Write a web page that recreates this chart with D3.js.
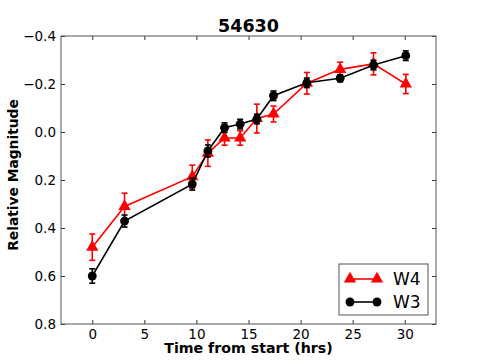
<!DOCTYPE html>
<html>
<head>
<meta charset="utf-8">
<script src="https://cdn.jsdelivr.net/npm/d3@7"></script>
<style>
body{margin:0;background:#fff;}
svg{font-family:"DejaVu Sans",sans-serif;}
</style>
</head>
<body>
<svg id="graph" width="485" height="360"></svg>
<script>
// time from start (hrs)
var times=[0,3.1,9.6,11.1,12.7,14.2,15.8,17.4,20.6,23.8,27.0,30.1];
// W4 (red triangles)
var w4Mag=[0.48,0.31,0.186,0.088,0.025,0.025,-0.056,-0.075,-0.203,-0.261,-0.284,-0.2];
var w4Err=[0.055,0.055,0.048,0.055,0.03,0.03,0.06,0.033,0.045,0.03,0.046,0.04];
// W3 (black circles)
var w3Mag=[0.6,0.371,0.217,0.079,-0.018,-0.033,-0.054,-0.151,-0.205,-0.224,-0.279,-0.318];
var w3Err=[0.03,0.025,0.025,0.025,0.02,0.02,0.02,0.02,0.02,0.015,0.02,0.02];
var xTicks=[0,5,10,15,20,25,30];
var yTicks=[-0.4,-0.2,0.0,0.2,0.4,0.6,0.8];

var screen={left:61,right:436,top:36,bottom:324};
var svg=d3.select("#graph");

var xScale=d3.scaleLinear()
    .domain([-3,33])
    .range([screen.left,screen.right]);
var yScale=d3.scaleLinear()
    .domain([-0.4,0.8])
    .range([screen.top,screen.bottom]);

var fmt=function(v){return d3.format(".1f")(v).replace("-","\u2212");}

//axes, ticks inward on all sides
var xAxis=svg.append("g")
    .attr("transform","translate(0,"+screen.bottom+")")
    .call(d3.axisBottom(xScale).tickValues(xTicks).tickSize(-4).tickPadding(5.5).tickFormat(d3.format("d")));
var xTop=svg.append("g")
    .attr("transform","translate(0,"+screen.top+")")
    .call(d3.axisTop(xScale).tickValues(xTicks).tickSize(-4).tickFormat(""));
var yAxis=svg.append("g")
    .attr("transform","translate("+screen.left+",0)")
    .call(d3.axisLeft(yScale).tickValues(yTicks).tickSize(-4).tickPadding(5).tickFormat(fmt));
var yRight=svg.append("g")
    .attr("transform","translate("+screen.right+",0)")
    .call(d3.axisRight(yScale).tickValues(yTicks).tickSize(-4).tickFormat(""));

[xAxis,xTop,yAxis,yRight].forEach(function(g){
    g.select(".domain").remove();
    g.selectAll("line").attr("stroke","#000").attr("stroke-width",0.8);
    g.selectAll("text").attr("font-size",13.5).attr("fill","#000").attr("font-family","DejaVu Sans");
});

svg.append("rect")
    .attr("x",screen.left).attr("y",screen.top)
    .attr("width",screen.right-screen.left)
    .attr("height",screen.bottom-screen.top)
    .attr("fill","none").attr("stroke","#555").attr("stroke-width",1);

var drawSeries=function(mags,errs,color,shape)
{
    var pts=times.map(function(t,i){return {t:t,m:mags[i],e:errs[i]};});
    var g=svg.append("g");
    var line=d3.line()
        .x(function(d){return xScale(d.t);})
        .y(function(d){return yScale(d.m);});
    g.append("path")
        .datum(pts)
        .attr("d",line)
        .attr("fill","none")
        .attr("stroke",color)
        .attr("stroke-width",1.6);
    //error bars
    var eb=g.selectAll(".eb").data(pts).enter().append("g");
    eb.append("line")
        .attr("x1",function(d){return xScale(d.t);})
        .attr("x2",function(d){return xScale(d.t);})
        .attr("y1",function(d){return yScale(d.m-d.e);})
        .attr("y2",function(d){return yScale(d.m+d.e);})
        .attr("stroke",color).attr("stroke-width",1.6);
    [-1,1].forEach(function(s){
        eb.append("line")
            .attr("x1",function(d){return xScale(d.t)-3;})
            .attr("x2",function(d){return xScale(d.t)+3;})
            .attr("y1",function(d){return yScale(d.m+s*d.e);})
            .attr("y2",function(d){return yScale(d.m+s*d.e);})
            .attr("stroke",color).attr("stroke-width",1.6);
    });
    g.selectAll(".mk").data(pts).enter().append("path")
        .attr("transform",function(d){return "translate("+xScale(d.t)+","+yScale(d.m)+")";})
        .attr("d",d3.symbol().type(shape).size(shape===d3.symbolCircle?62:66))
        .attr("fill",color);
}

drawSeries(w4Mag,w4Err,"#ff0000",d3.symbolTriangle);
drawSeries(w3Mag,w3Err,"#000000",d3.symbolCircle);

//title and labels
svg.append("text").attr("x",248.5).attr("y",31.5).attr("text-anchor","middle")
    .attr("font-size",17.5).attr("font-weight","bold").text("54630");
svg.append("text").attr("x",248.5).attr("y",353).attr("text-anchor","middle")
    .attr("font-size",14.2).attr("font-weight","bold").text("Time from start (hrs)");
svg.append("text").attr("transform","translate(17.5,175) rotate(-90)").attr("text-anchor","middle")
    .attr("font-size",13.8).attr("font-weight","bold").text("Relative Magnitude");

//legend
var legend=svg.append("g");
legend.append("rect").attr("x",339).attr("y",264).attr("width",89).attr("height",51)
    .attr("fill","#fff").attr("stroke","#555").attr("stroke-width",1);
var entries=[{name:"W4",color:"#ff0000",shape:d3.symbolTriangle,y:279},
             {name:"W3",color:"#000000",shape:d3.symbolCircle,y:302}];
entries.forEach(function(e){
    legend.append("line").attr("x1",350).attr("x2",377).attr("y1",e.y).attr("y2",e.y)
        .attr("stroke",e.color).attr("stroke-width",1.6);
    [350,377].forEach(function(x){
        legend.append("path").attr("transform","translate("+x+","+e.y+")")
            .attr("d",d3.symbol().type(e.shape).size(e.shape===d3.symbolCircle?62:66))
            .attr("fill",e.color);
    });
    legend.append("text").attr("x",393).attr("y",e.y+6).attr("font-size",17).text(e.name);
});
</script>
</body>
</html>
